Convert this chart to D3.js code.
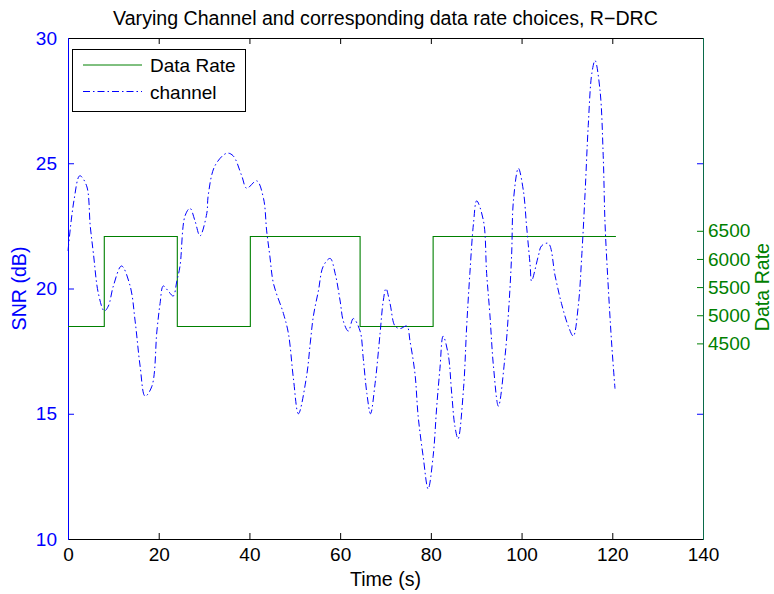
<!DOCTYPE html>
<html>
<head>
<meta charset="utf-8">
<script src="https://cdn.jsdelivr.net/npm/d3@7"></script>
<style>
  html, body { margin: 0; padding: 0; background: #fff; }
  svg { display: block; font-family: "Liberation Sans", Arial, Helvetica, sans-serif; }
</style>
</head>
<body>
<svg id="chart" width="774" height="594"></svg>
<script>
// Channel SNR trace (time in s, SNR in dB)
const channelTime = [0, 1.3, 2.6, 4.1, 4.9, 5.6, 6.7, 8.0, 8.9, 10.0, 11.8, 13.7, 14.8, 15.9, 17.0, 18.5, 19.6, 20.3, 21.0, 22.1, 23.2, 24.0, 24.7, 25.8, 26.9, 28.0, 29.1, 30.6, 30.9, 32.4, 35.0, 36.4, 38.3, 39.4, 41.6, 43.1, 43.8, 44.5, 45.3, 47.5, 48.6, 49.7, 50.8, 52.6, 53.4, 54.1, 55.2, 56.3, 57.8, 58.9, 60.0, 60.7, 61.8, 62.9, 64.4, 65.1, 65.9, 66.7, 67.7, 68.8, 69.5, 70.1, 71.0, 72.1, 73.2, 74.7, 75.4, 76.5, 77.2, 78.3, 79.4, 80.5, 81.3, 82.0, 82.7, 83.8, 84.6, 85.3, 86.0, 87.2, 87.9, 88.6, 89.4, 90.1, 91.6, 92.3, 93.0, 93.8, 94.9, 96.3, 97.1, 97.8, 98.2, 99.3, 100.4, 101.1, 101.9, 102.2, 103.7, 104.4, 105.9, 107.4, 108.8, 110.3, 111.4, 112.5, 113.3, 114.0, 114.7, 115.5, 116.2, 117.3, 118.0, 118.4, 119.1, 119.9, 120.6];
const channelSNR = [21.5, 23.5, 24.5, 24.1, 22.5, 21.4, 19.8, 19.1, 19.3, 20.1, 20.9, 20.1, 18.7, 16.9, 15.7, 16.1, 18.3, 19.4, 20.1, 19.9, 19.7, 20.3, 20.9, 22.9, 23.2, 22.7, 22.1, 23.0, 23.7, 24.9, 25.4, 25.3, 24.5, 24.0, 24.3, 23.6, 22.3, 21.3, 20.2, 19.0, 18.2, 16.4, 15.0, 16.5, 17.8, 18.9, 19.9, 20.9, 21.2, 20.6, 19.5, 18.7, 18.3, 18.8, 18.3, 17.2, 15.8, 15.0, 16.2, 18.2, 19.5, 20.0, 19.4, 18.5, 18.4, 18.5, 17.9, 16.6, 14.9, 13.3, 12.0, 13.3, 15.3, 16.8, 18.1, 17.4, 15.8, 14.5, 14.0, 16.0, 18.5, 20.6, 22.6, 23.5, 22.7, 20.6, 19.0, 16.9, 15.3, 17.2, 19.0, 21.3, 23.5, 24.8, 23.9, 22.5, 20.9, 20.3, 21.3, 21.7, 21.8, 20.5, 19.4, 18.5, 18.1, 19.3, 21.4, 23.8, 26.5, 28.6, 29.1, 27.9, 25.3, 22.6, 20.1, 17.7, 16.0];

// Selected data rate, held from each switch time onward
const rateTime = [0, 8.0, 24.1, 40.2, 64.4, 80.5, 120.8];
const rateValue = [4800, 6400, 4800, 6400, 4800, 6400, 6400];

// Axis ticks
const timeTicks = [0, 20, 40, 60, 80, 100, 120, 140];
const snrTicks = [10, 15, 20, 25, 30];
const snrMirrorTicks = [10, 15, 25, 30];
const rateTicks = [4500, 5000, 5500, 6000, 6500];

const plot = { left: 68, top: 38, right: 703, bottom: 539 };
const blue = "#0000ff", green = "#008000", black = "#000";
const tickLen = 6;
const tickFont = 19;
const labelFont = 19.6;

const svg = d3.select("#chart");

const x = d3.scaleLinear().domain([0, 140]).range([plot.left, plot.right]);
const ySNR = d3.scaleLinear().domain([10, 30]).range([plot.bottom, plot.top]);
const yRate = d3.scaleLinear().domain([1025, 9925]).range([plot.bottom, plot.top]);

// Axes (ticks point into the plot area)
function styleAxis(g, color) {
  g.select(".domain").remove();
  g.selectAll(".tick line").attr("stroke", color).attr("stroke-width", 1);
  g.selectAll(".tick text").attr("fill", color).attr("font-size", tickFont).attr("font-family", null);
}

const xBottom = svg.append("g").attr("transform", `translate(0,${plot.bottom})`)
  .call(d3.axisBottom(x).tickValues(timeTicks).tickSizeInner(-tickLen).tickSizeOuter(0).tickPadding(9));
styleAxis(xBottom, black);

const xTop = svg.append("g").attr("transform", `translate(0,${plot.top})`)
  .call(d3.axisTop(x).tickValues(timeTicks).tickSizeInner(-tickLen).tickSizeOuter(0).tickFormat(""));
styleAxis(xTop, black);

const yLeft = svg.append("g").attr("transform", `translate(${plot.left},0)`)
  .call(d3.axisLeft(ySNR).tickValues(snrTicks).tickSizeInner(-tickLen).tickSizeOuter(0).tickPadding(11));
styleAxis(yLeft, blue);

const yLeftMirror = svg.append("g").attr("transform", `translate(${plot.right},0)`)
  .call(d3.axisRight(ySNR).tickValues(snrMirrorTicks).tickSizeInner(-tickLen).tickSizeOuter(0).tickFormat(""));
styleAxis(yLeftMirror, blue);

const yRight = svg.append("g").attr("transform", `translate(${plot.right},0)`)
  .call(d3.axisRight(yRate).tickValues(rateTicks).tickSizeInner(-tickLen).tickSizeOuter(0).tickPadding(5).tickFormat(d3.format("d")));
styleAxis(yRight, green);

// Frame
svg.append("line").attr("x1", plot.left).attr("x2", plot.right).attr("y1", plot.top + 0.5).attr("y2", plot.top + 0.5).attr("stroke", black);
svg.append("line").attr("x1", plot.left).attr("x2", plot.right).attr("y1", plot.bottom + 0.5).attr("y2", plot.bottom + 0.5).attr("stroke", black);
svg.append("line").attr("x1", plot.left + 0.5).attr("x2", plot.left + 0.5).attr("y1", plot.top).attr("y2", plot.bottom + 1).attr("stroke", blue);
svg.append("line").attr("x1", plot.right + 0.5).attr("x2", plot.right + 0.5).attr("y1", plot.top).attr("y2", plot.bottom + 1).attr("stroke", "#0a6a4a");

// Data rate steps
const rateLine = d3.line()
  .x((d, i) => x(rateTime[i]))
  .y((d, i) => yRate(rateValue[i]))
  .curve(d3.curveStepAfter);
svg.append("path")
  .attr("d", rateLine(rateTime))
  .attr("fill", "none").attr("stroke", green).attr("stroke-width", 1.1);

// Channel trace, dash-dot
const dashDot = "7,3,1.5,3";
const snrLine = d3.line()
  .x((d, i) => x(channelTime[i]))
  .y((d, i) => ySNR(channelSNR[i]))
  .curve(d3.curveCatmullRom.alpha(0.5));
svg.append("path")
  .attr("d", snrLine(channelTime))
  .attr("fill", "none").attr("stroke", blue).attr("stroke-width", 1)
  .attr("stroke-dasharray", dashDot);

// Title and axis labels
svg.append("text").attr("x", (plot.left + plot.right) / 2).attr("y", 25)
  .attr("text-anchor", "middle").attr("font-size", labelFont).attr("fill", black)
  .text("Varying Channel and corresponding data rate choices, R\u2212DRC");
svg.append("text").attr("x", (plot.left + plot.right) / 2).attr("y", 586)
  .attr("text-anchor", "middle").attr("font-size", labelFont).attr("fill", black)
  .text("Time (s)");
svg.append("text").attr("transform", `translate(26,${ySNR(20)}) rotate(-90)`)
  .attr("text-anchor", "middle").attr("font-size", labelFont).attr("fill", blue)
  .text("SNR (dB)");
svg.append("text").attr("transform", `translate(769,${yRate(5500)}) rotate(-90)`)
  .attr("text-anchor", "middle").attr("font-size", labelFont).attr("fill", green)
  .text("Data Rate");

// Legend
const legend = svg.append("g").attr("transform", "translate(72,49)");
legend.append("rect").attr("x", 0.5).attr("y", 0.5).attr("width", 173).attr("height", 62)
  .attr("fill", "#fff").attr("stroke", black);
const legendItems = [
  { label: "Data Rate", color: green, dash: null },
  { label: "channel", color: blue, dash: dashDot }
];
legendItems.forEach((item, i) => {
  const cy = 16 + i * 26.5;
  legend.append("line").attr("x1", 11).attr("x2", 70).attr("y1", cy).attr("y2", cy)
    .attr("stroke", item.color).attr("stroke-width", 1)
    .attr("stroke-dasharray", item.dash);
  legend.append("text").attr("x", 78).attr("y", cy + 7)
    .attr("font-size", tickFont).attr("fill", black).text(item.label);
});
</script>
</body>
</html>
